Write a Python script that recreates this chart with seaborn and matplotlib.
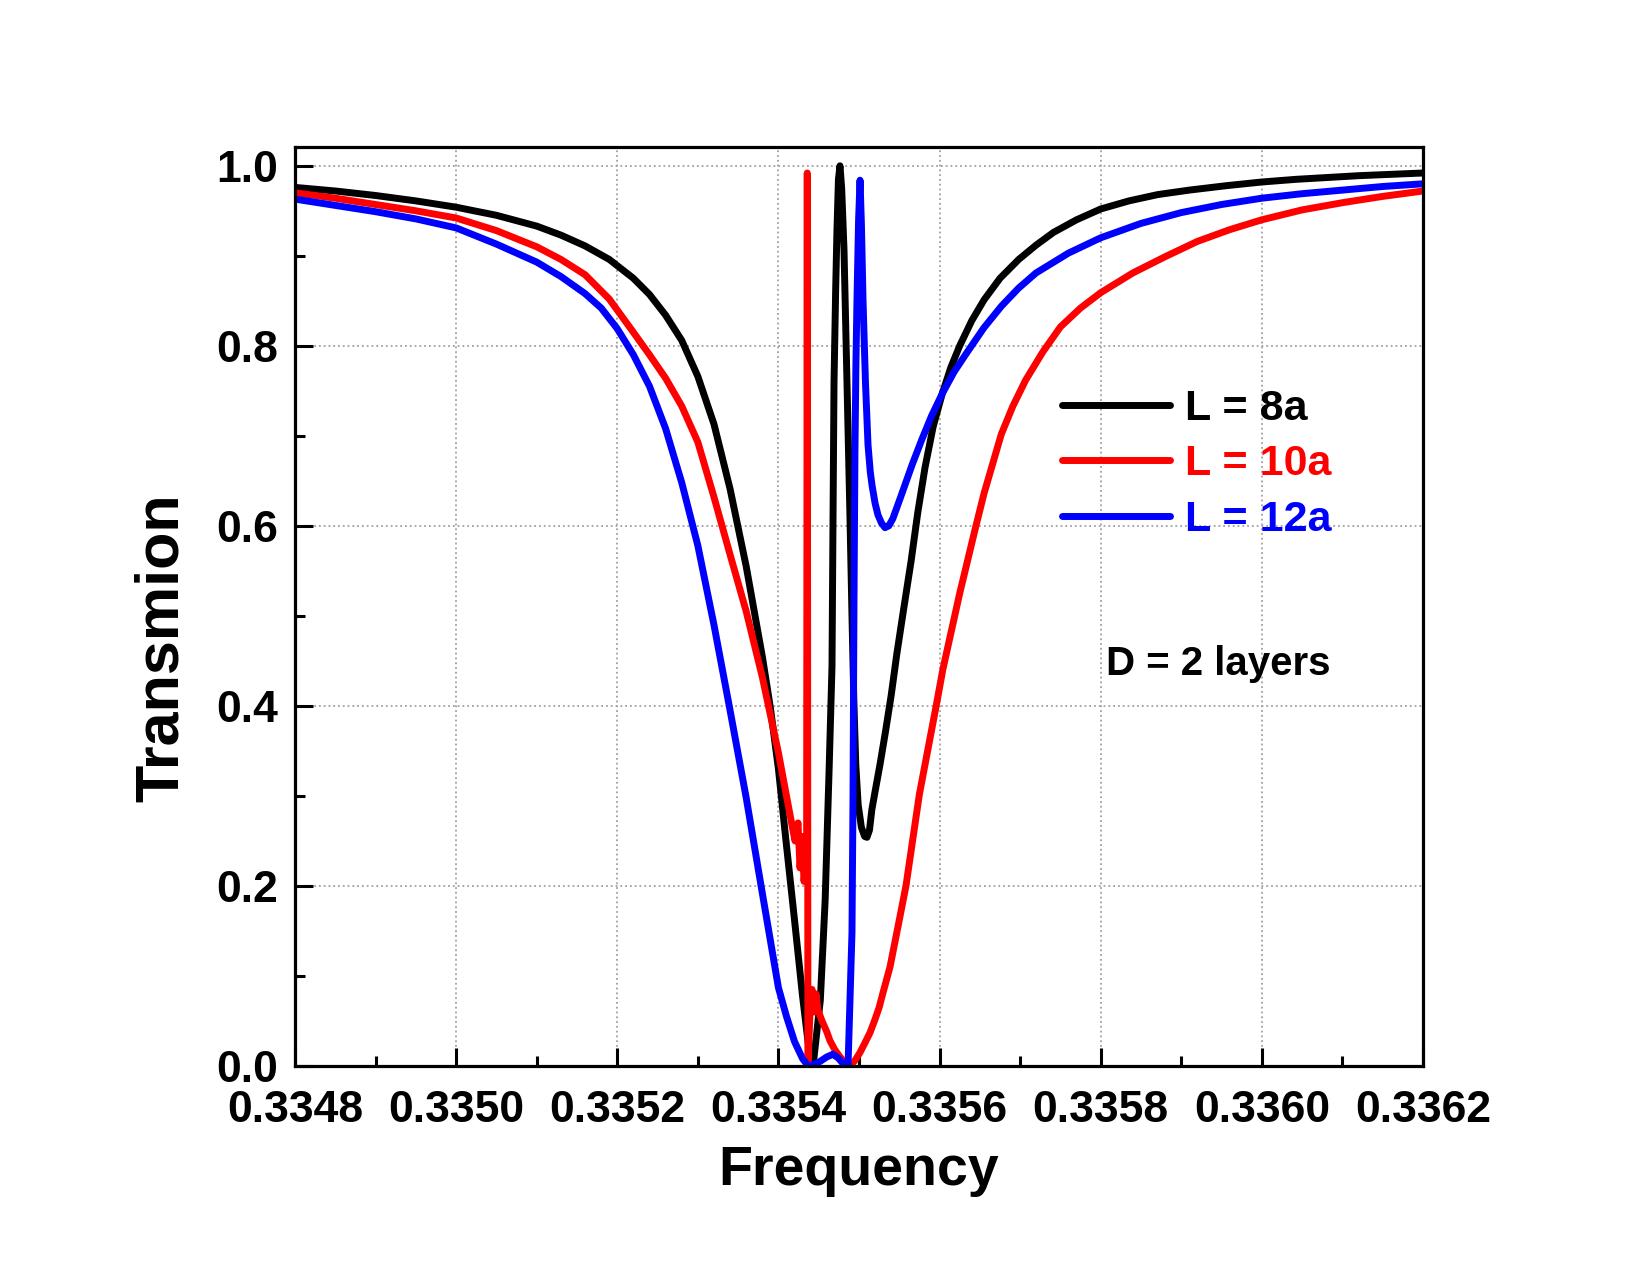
import numpy as np
import pandas as pd
import matplotlib
matplotlib.use("Agg")
import matplotlib.pyplot as plt
import seaborn as sns
from matplotlib.ticker import MultipleLocator, FormatStrFormatter

# ═══════════════════ DATA ═════════════
freq_8a = [0.3348000, 0.3348500, 0.3349000, 0.3349500, 0.3350000, 0.3350500, 0.3351000,
           0.3351300, 0.3351600, 0.3351900, 0.3352200, 0.3352400, 0.3352600, 0.3352800,
           0.3353000, 0.3353200, 0.3353400, 0.3353600, 0.3353800, 0.3353900, 0.3354000,
           0.3354100, 0.3354200, 0.3354300, 0.3354370, 0.3354430, 0.3354520, 0.3354580,
           0.3354630, 0.3354665, 0.3354677, 0.3354690, 0.3354710, 0.3354727, 0.3354745,
           0.3354764, 0.3354785, 0.3354814, 0.3354851, 0.3354888, 0.3354913, 0.3354935,
           0.3354960, 0.3354990, 0.3355030, 0.3355070, 0.3355099, 0.3355130, 0.3355160,
           0.3355200, 0.3355261, 0.3355330, 0.3355400, 0.3355470, 0.3355550, 0.3355647,
           0.3355730, 0.3355820, 0.3355920, 0.3356034, 0.3356140, 0.3356250, 0.3356400,
           0.3356552, 0.3356750, 0.3356983, 0.3357200, 0.3357414, 0.3357700, 0.3358000,
           0.3358350, 0.3358707, 0.3359100, 0.3359569, 0.3360000, 0.3360430, 0.3361200,
           0.3362000]
trans_8a = [0.976, 0.972, 0.967, 0.961, 0.954, 0.945, 0.933,
            0.923, 0.911, 0.896, 0.875, 0.857, 0.834, 0.806,
            0.766, 0.713, 0.641, 0.555, 0.455, 0.398, 0.330,
            0.245, 0.162, 0.077, 0.025, 0.000, 0.073, 0.184,
            0.332, 0.444, 0.600, 0.759, 0.860, 0.930, 0.985,
            1.000, 0.975, 0.907, 0.759, 0.610, 0.500, 0.410,
            0.335, 0.290, 0.265, 0.255, 0.254, 0.262, 0.285,
            0.305, 0.335, 0.372, 0.412, 0.458, 0.505, 0.561,
            0.615, 0.665, 0.710, 0.747, 0.776, 0.800, 0.828,
            0.851, 0.875, 0.896, 0.912, 0.926, 0.940, 0.952,
            0.961, 0.968, 0.973, 0.978, 0.982, 0.985, 0.989,
            0.992]

freq_10a = [0.3348000, 0.3348500, 0.3349000, 0.3349500, 0.3350000, 0.3350500, 0.3351000,
            0.3351300, 0.3351600, 0.3351900, 0.3352200, 0.3352400, 0.3352600, 0.3352800,
            0.3353000, 0.3353200, 0.3353400, 0.3353600, 0.3353800, 0.3354000, 0.3354100,
            0.3354180, 0.3354206, 0.3354243, 0.3354268, 0.3354293, 0.3354318, 0.3354342,
            0.3354350, 0.3354358, 0.3354366, 0.3354392, 0.3354417, 0.3354442, 0.3354466,
            0.3354491, 0.3354541, 0.3354600, 0.3354640, 0.3354700, 0.3354764, 0.3354864,
            0.3354888, 0.3354950, 0.3355013, 0.3355070, 0.3355137, 0.3355200, 0.3355250,
            0.3355300, 0.3355385, 0.3355500, 0.3355583, 0.3355750, 0.3355958, 0.3356042,
            0.3356250, 0.3356438, 0.3356552, 0.3356767, 0.3356910, 0.3357069, 0.3357280,
            0.3357500, 0.3357750, 0.3358000, 0.3358400, 0.3358800, 0.3359200, 0.3359600,
            0.3360000, 0.3360500, 0.3361000, 0.3361500, 0.3362000]
trans_10a = [0.970, 0.964, 0.957, 0.950, 0.942, 0.928, 0.910,
             0.896, 0.879, 0.852, 0.815, 0.790, 0.764, 0.733,
             0.693, 0.632, 0.568, 0.505, 0.432, 0.348, 0.300,
             0.262, 0.250, 0.270, 0.220, 0.255, 0.205, 0.235,
             0.240, 0.992, 0.000, 0.060, 0.085, 0.060, 0.080,
             0.062, 0.050, 0.038, 0.028, 0.018, 0.010, 0.000,
             0.000, 0.006, 0.015, 0.025, 0.037, 0.052, 0.065,
             0.082, 0.110, 0.162, 0.200, 0.302, 0.400, 0.441,
             0.525, 0.595, 0.636, 0.702, 0.733, 0.762, 0.793,
             0.821, 0.842, 0.859, 0.881, 0.899, 0.916, 0.929,
             0.940, 0.951, 0.959, 0.966, 0.972]

freq_12a = [0.3348000, 0.3348500, 0.3349000, 0.3349500, 0.3350000, 0.3350500, 0.3351000,
            0.3351300, 0.3351600, 0.3351800, 0.3352000, 0.3352200, 0.3352400, 0.3352600,
            0.3352800, 0.3353000, 0.3353200, 0.3353400, 0.3353600, 0.3353800, 0.3354000,
            0.3354100, 0.3354200, 0.3354300, 0.3354370, 0.3354450, 0.3354516, 0.3354600,
            0.3354677, 0.3354740, 0.3354789, 0.3354864, 0.3354913, 0.3354926, 0.3354938,
            0.3354950, 0.3354962, 0.3354975, 0.3354995, 0.3355013, 0.3355030, 0.3355050,
            0.3355080, 0.3355112, 0.3355140, 0.3355162, 0.3355200, 0.3355236, 0.3355280,
            0.3355323, 0.3355370, 0.3355420, 0.3355517, 0.3355660, 0.3355776, 0.3355900,
            0.3356034, 0.3356180, 0.3356336, 0.3356550, 0.3356767, 0.3356980, 0.3357198,
            0.3357600, 0.3358000, 0.3358500, 0.3359000, 0.3359500, 0.3360000, 0.3360500,
            0.3361000, 0.3361500, 0.3362000]
trans_12a = [0.963, 0.956, 0.949, 0.941, 0.931, 0.913, 0.893,
             0.877, 0.858, 0.842, 0.819, 0.790, 0.755, 0.708,
             0.648, 0.578, 0.490, 0.395, 0.298, 0.192, 0.087,
             0.055, 0.027, 0.008, 0.000, 0.002, 0.005, 0.010,
             0.013, 0.009, 0.004, 0.000, 0.148, 0.300, 0.517,
             0.684, 0.780, 0.851, 0.940, 0.984, 0.935, 0.851,
             0.760, 0.690, 0.660, 0.645, 0.625, 0.612, 0.603,
             0.598, 0.600, 0.608, 0.632, 0.668, 0.695, 0.722,
             0.747, 0.771, 0.792, 0.820, 0.844, 0.864, 0.881,
             0.903, 0.920, 0.936, 0.948, 0.957, 0.964, 0.969,
             0.973, 0.977, 0.980]

series_labels = ["L = 8a", "L = 10a", "L = 12a"]
series_colors = ["#000000", "#ff0000", "#0000ff"]

# ═══════════════════ STYLE ════════════════════════════════════
sns.set_theme(style="ticks")
plt.rcParams["font.family"] = ["Liberation Sans", "DejaVu Sans"]
plt.rcParams["font.weight"] = "bold"
plt.rcParams["axes.labelweight"] = "bold"
plt.rcParams["text.color"] = "black"
plt.rcParams["axes.labelcolor"] = "black"
plt.rcParams["xtick.color"] = "black"
plt.rcParams["ytick.color"] = "black"
plt.rcParams["lines.solid_capstyle"] = "round"
plt.rcParams["lines.solid_joinstyle"] = "round"

fig = plt.figure(figsize=(16.5, 12.74), dpi=100)
ax = fig.add_axes([0.1788, 0.1633, 0.6836, 0.7214])

curves = [(freq_8a, trans_8a), (freq_10a, trans_10a), (freq_12a, trans_12a)]
for (fx, ty), lab, col in zip(curves, series_labels, series_colors):
    sns.lineplot(x=fx, y=ty, ax=ax, color=col, lw=5, label=lab,
                 sort=False, estimator=None)

ax.set_xlim(0.3348, 0.3362)
ax.set_ylim(0.0, 1.021)

ax.xaxis.set_major_locator(MultipleLocator(0.0002))
ax.xaxis.set_minor_locator(MultipleLocator(0.0001))
ax.yaxis.set_major_locator(MultipleLocator(0.2))
ax.yaxis.set_minor_locator(MultipleLocator(0.1))
ax.xaxis.set_major_formatter(FormatStrFormatter("%.4f"))
ax.yaxis.set_major_formatter(FormatStrFormatter("%.1f"))

ax.tick_params(which="major", direction="in", length=13, width=2.2,
               labelsize=32, pad=12, top=False, right=False)
ax.tick_params(axis="x", which="major", pad=17)
ax.tick_params(which="minor", direction="in", length=7, width=2.2,
               top=False, right=False)
for s in ax.spines.values():
    s.set_linewidth(2.3)
    s.set_color("black")

ax.grid(which="major", color="#a0a0a0", linestyle=":", linewidth=1.3)
ax.set_axisbelow(True)

ax.set_xlabel("Frequency", fontsize=40, fontweight="bold")
ax.set_ylabel("Transmion", fontsize=44, fontweight="bold")
ax.xaxis.set_label_coords(0.5, -0.086)
ax.yaxis.set_label_coords(-0.092, 0.455)

leg = ax.legend(loc="upper left", bbox_to_anchor=(0.680, 0.737), frameon=False,
                handlelength=2.5, handletextpad=0.35,
                labelspacing=0.36, borderpad=0, borderaxespad=0,
                labelcolor="linecolor", prop={"weight": "bold", "size": 31})

ax.text(0.719, 0.4256, "D = 2 layers", transform=ax.transAxes,
        fontsize=29, fontweight="bold", va="baseline", ha="left")

fig.savefig("out.png", dpi=100)
